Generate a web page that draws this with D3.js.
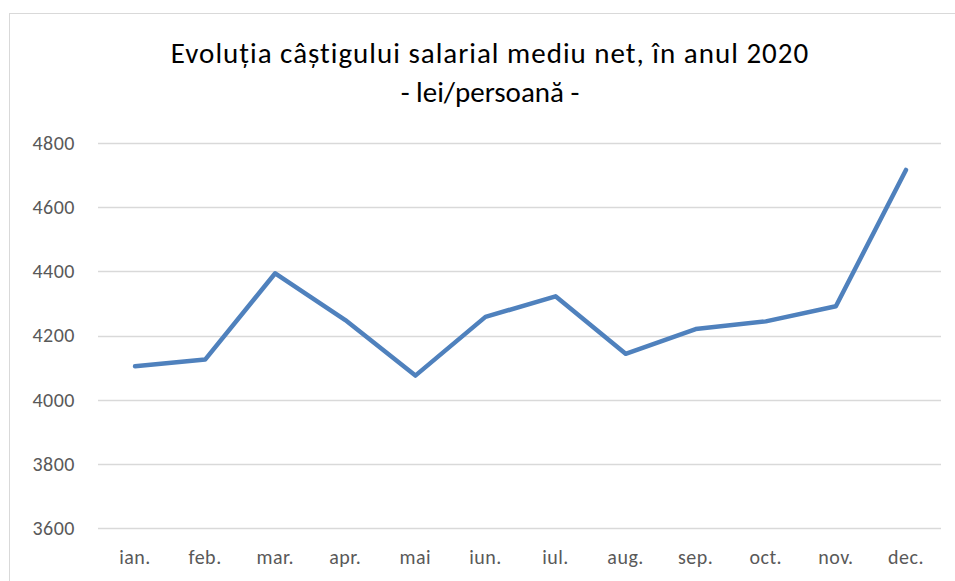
<!DOCTYPE html>
<html>
<head>
<meta charset="utf-8">
<script src="https://cdn.jsdelivr.net/npm/d3@7"></script>
<style>
  html, body { margin: 0; padding: 0; background: #fff; }
  svg { display: block; font-family: Carlito, Calibri, Lato, sans-serif; }
</style>
</head>
<body>
<div id="chart"></div>
<script>
const months = ['ian.', 'feb.', 'mar.', 'apr.', 'mai', 'iun.', 'iul.', 'aug.', 'sep.', 'oct.', 'nov.', 'dec.'];
const salary = [4104, 4125, 4394, 4248, 4075, 4258, 4322, 4143, 4220, 4244, 4291, 4716];
const yTicks = [3600, 3800, 4000, 4200, 4400, 4600, 4800];
const titleLines = ['Evoluția câștigului salarial mediu net, în anul 2020', '- lei/persoană -'];

const width = 955, height = 581;
const margin = { top: 143, right: 14, bottom: 53, left: 100 };

const svg = d3.select('#chart').append('svg')
  .attr('width', width)
  .attr('height', height);

// chart frame (cut off at right/bottom like the original)
svg.append('rect')
  .attr('x', 9.5).attr('y', 13.5)
  .attr('width', 980).attr('height', 600)
  .attr('fill', 'none')
  .attr('stroke', '#d9d9d9');

// Title
svg.append('g').selectAll('text')
  .data(titleLines)
  .enter().append('text')
  .attr('x', 490)
  .attr('y', (d, i) => 63 + i * 39)
  .attr('text-anchor', 'middle')
  .attr('font-size', 29)
  .attr('letter-spacing', (d, i) => i === 0 ? 1 : 0)
  .attr('fill', '#000')
  .text(d => d);

const x = d3.scaleBand().domain(months).range([margin.left, width - margin.right]);
const y = d3.scaleLinear().domain([3600, 4800]).range([height - margin.bottom, margin.top]);

// Gridlines
svg.append('g').selectAll('line')
  .data(yTicks)
  .enter().append('line')
  .attr('x1', margin.left - 2).attr('x2', width - margin.right)
  .attr('y1', d => Math.round(y(d)) + 0.5).attr('y2', d => Math.round(y(d)) + 0.5)
  .attr('stroke', '#d9d9d9')
  .attr('stroke-width', 1.3);

// Y axis labels
const yAxis = svg.append('g')
  .attr('transform', `translate(${margin.left - 25},0)`)
  .call(d3.axisLeft(y).tickValues(yTicks).tickSize(0).tickPadding(0).tickFormat(d3.format('d')));
yAxis.select('.domain').remove();
yAxis.selectAll('text')
  .attr('font-family', 'Carlito, Calibri, Lato, sans-serif')
  .attr('font-size', 20)
  .attr('letter-spacing', 0.5)
  .attr('fill', '#595959');

// X axis labels
const xAxis = svg.append('g')
  .attr('transform', `translate(0,${height - margin.bottom})`)
  .call(d3.axisBottom(x).tickSize(0).tickPadding(22));
xAxis.select('.domain').remove();
xAxis.selectAll('text')
  .attr('font-family', 'Carlito, Calibri, Lato, sans-serif')
  .attr('font-size', 20)
  .attr('letter-spacing', 0.5)
  .attr('fill', '#595959');

// Line
const line = d3.line()
  .x((d, i) => x(months[i]) + x.bandwidth() / 2)
  .y(d => y(d));

svg.append('path')
  .datum(salary)
  .attr('d', line)
  .attr('fill', 'none')
  .attr('stroke', '#4f81bd')
  .attr('stroke-width', 4.5)
  .attr('stroke-linejoin', 'round')
  .attr('stroke-linecap', 'round');
</script>
</body>
</html>
